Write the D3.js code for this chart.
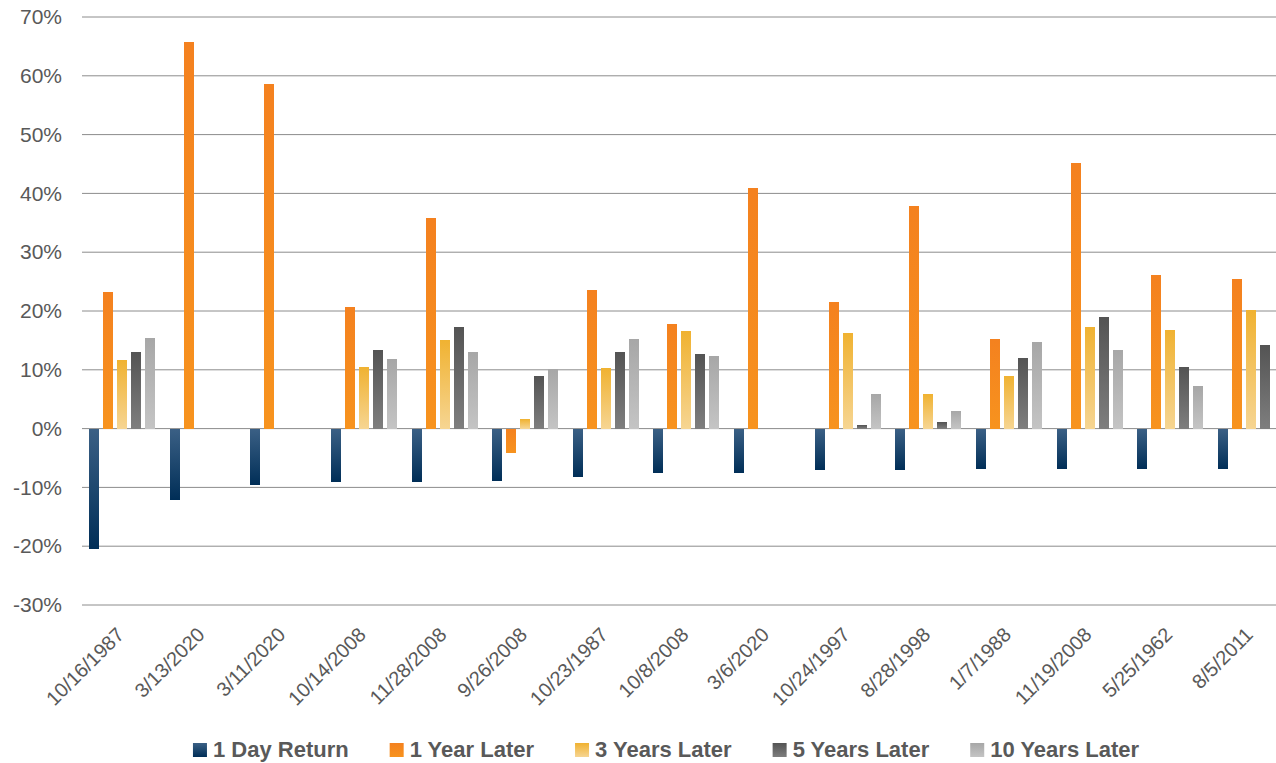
<!DOCTYPE html>
<html>
<head>
<meta charset="utf-8">
<script src="https://cdn.jsdelivr.net/npm/d3@7"></script>
<style>
  html, body { margin: 0; padding: 0; background: #ffffff; }
  svg { display: block; font-family: "Liberation Sans", Arial, sans-serif; }
</style>
</head>
<body>
<svg id="chart" width="1276" height="763"></svg>
<script>
// Worst single-day S&P 500 drops and the returns that followed (%)
const categories = ["10/16/1987", "3/13/2020", "3/11/2020", "10/14/2008", "11/28/2008",
  "9/26/2008", "10/23/1987", "10/8/2008", "3/6/2020", "10/24/1997", "8/28/1998",
  "1/7/1988", "11/19/2008", "5/25/1962", "8/5/2011"];
const seriesNames = ["1 Day Return", "1 Year Later", "3 Years Later", "5 Years Later", "10 Years Later"];
const oneDay    = [-20.5, -12.1, -9.6, -9.1, -9.0, -8.9, -8.3, -7.6, -7.6, -7.0, -7.0, -6.9, -6.9, -6.9, -6.9];
const oneYear   = [23.3, 65.7, 58.6, 20.7, 35.9, -4.2, 23.6, 17.8, 40.9, 21.6, 37.9, 15.3, 45.2, 26.2, 25.4];
const threeYear = [11.7, null, null, 10.5, 15.1, 1.6, 10.3, 16.6, null, 16.3, 5.9, 9.0, 17.3, 16.8, 20.1];
const fiveYear  = [13.0, null, null, 13.4, 17.3, 8.9, 13.0, 12.7, null, 0.6, 1.1, 12.0, 18.9, 10.5, 14.2];
const tenYear   = [15.4, null, null, 11.8, 13.0, 10.1, 15.2, 12.3, null, 5.9, 3.0, 14.7, 13.4, 7.2, null];
const yTicks = [-30, -20, -10, 0, 10, 20, 30, 40, 50, 60, 70];

const seriesValues = [oneDay, oneYear, threeYear, fiveYear, tenYear];
// top / bottom colours of each series' vertical gradient
const gradients = [
  ["#3b6085", "#002e57"],
  ["#f4811f", "#f7931e"],
  ["#f0b231", "#f6d592"],
  ["#545454", "#7e7e7e"],
  ["#a7a7a7", "#c4c4c4"]
];

const svg = d3.select("#chart");
const textColor = "#595959";

const x0 = d3.scaleBand().domain(categories).range([82, 1291.6]).padding(0);
const x1 = d3.scaleBand().domain(seriesNames).range([7, 73]).paddingInner(0.2857).paddingOuter(0);
const y = d3.scaleLinear().domain([-30, 70]).range([605, 17]);

// gradients
const defs = svg.append("defs");
seriesNames.forEach((name, i) => {
  const g = defs.append("linearGradient")
    .attr("id", "grad" + i)
    .attr("x1", 0).attr("y1", 0).attr("x2", 0).attr("y2", 1);
  g.append("stop").attr("offset", "0%").attr("stop-color", gradients[i][0]);
  g.append("stop").attr("offset", "100%").attr("stop-color", gradients[i][1]);
});

// horizontal gridlines
svg.append("g")
  .selectAll("line")
  .data(yTicks)
  .join("line")
  .attr("x1", 82)
  .attr("x2", 1291.6)
  .attr("y1", d => y(d))
  .attr("y2", d => y(d))
  .attr("stroke", "#8c8c8c")
  .attr("stroke-width", 1);

// y axis labels
const yAxis = d3.axisLeft(y).tickValues(yTicks).tickFormat(d => d + "%").tickSize(0).tickPadding(0);
svg.append("g")
  .attr("transform", "translate(62,0)")
  .call(yAxis)
  .call(g => g.select(".domain").remove())
  .call(g => g.selectAll("text")
    .attr("fill", textColor)
    .style("font-size", "21px")
    .style("font-family", "'Liberation Sans', Arial, sans-serif"));

// bars
const rows = categories.map((c, ci) => ({
  cat: c,
  vals: seriesNames.map((s, si) => ({ s, si, v: seriesValues[si][ci] }))
}));

svg.append("g")
  .selectAll("g")
  .data(rows)
  .join("g")
  .attr("transform", d => `translate(${x0(d.cat)},0)`)
  .selectAll("rect")
  .data(d => d.vals.filter(e => e.v !== null))
  .join("rect")
  .attr("x", d => x1(d.s))
  .attr("width", x1.bandwidth())
  .attr("y", d => y(Math.max(0, d.v)))
  .attr("height", d => Math.abs(y(d.v) - y(0)))
  .attr("fill", d => `url(#grad${d.si})`)
  .attr("shape-rendering", "crispEdges");

// category labels, rotated
svg.append("g")
  .selectAll("text")
  .data(categories)
  .join("text")
  .attr("transform", d => `translate(${x0(d) + x0.bandwidth() / 2 - 2},631) rotate(-45)`)
  .attr("text-anchor", "end")
  .attr("dy", "0.35em")
  .attr("fill", textColor)
  .style("font-size", "20px")
  .text(d => d);

// legend
const legend = svg.append("g").attr("class", "legend");
const items = legend.selectAll("g")
  .data(seriesNames)
  .join("g");
items.append("rect")
  .attr("width", 14)
  .attr("height", 14)
  .attr("y", 743)
  .attr("fill", (d, i) => `url(#grad${i})`);
items.append("text")
  .attr("x", 20)
  .attr("y", 757)
  .attr("fill", textColor)
  .style("font-size", "22px")
  .style("font-weight", "bold")
  .text(d => d);

let cursor = 0;
const gap = 41;
items.each(function() {
  const g = d3.select(this);
  const w = 20 + g.select("text").node().getComputedTextLength();
  g.attr("transform", `translate(${cursor},0)`);
  cursor += w + gap;
});
const totalW = cursor - gap;
legend.attr("transform", `translate(${666 - totalW / 2},0)`);
</script>
</body>
</html>
